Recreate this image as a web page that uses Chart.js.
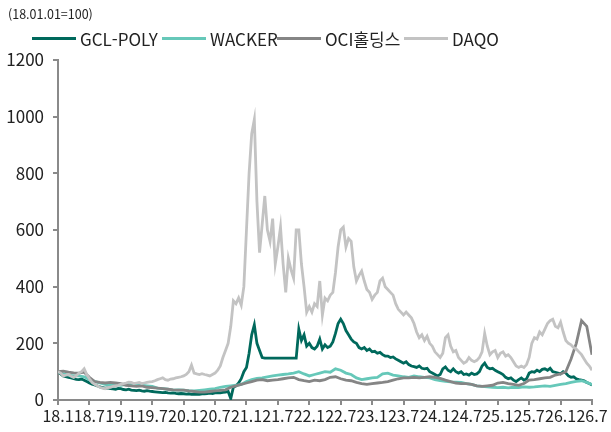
<!DOCTYPE html>
<html lang="ko">
  <head>
    <meta charset="UTF-8" />
    <title>Polysilicon makers, indexed share prices</title>
    <script src="https://cdn.jsdelivr.net/npm/chart.js"></script>
    <style>
      body {
        margin: 0;
        font-family: "Noto Sans CJK KR", "Noto Sans", sans-serif;
        color: #222;
      }
      .wrap {
        position: relative;
        width: 611px;
        height: 432px;
      }
      .unit {
        position: absolute;
        left: 8px;
        top: 8px;
        font-size: 12.5px;
        line-height: 1;
      }
      .item {
        position: absolute;
        top: 29px;
        display: flex;
        align-items: center;
        font-size: 17px;
        line-height: 1;
        height: 18px;
      }
      .item span.line {
        display: inline-block;
        width: 44px;
        height: 3px;
        margin-right: 4px;
      }
    </style>
  </head>
  <body>
    <div class="wrap">
      <canvas id="chart" width="611" height="432"></canvas>
      <div class="unit">(18.01.01=100)</div>
      <div id="legend"></div>
    </div>

    <script>
      // x tick labels, one every 6 months starting Jan 2018
      const tickLabels = [
        "18.1", "18.7", "19.1", "19.7", "20.1", "20.7", "21.1", "21.7", "22.1",
        "22.7", "23.1", "23.7", "24.1", "24.7", "25.1", "25.7", "26.1", "26.7",
      ];

      // DAQO and GCL-POLY: one value every half month
      const daqo = [
        100, 95, 85, 88, 90, 84, 80, 86, 95, 100,
        110, 90, 75, 62, 55, 50, 45, 42, 40, 44,
        45, 48, 50, 52, 55, 58, 60, 63, 62, 58,
        60, 62, 58, 60, 62, 64, 65, 68, 72, 75,
        78, 72, 70, 74, 75, 78, 80, 82, 85, 90,
        100, 123, 95, 92, 90, 93, 90, 88, 85, 90,
        95, 105, 120, 150, 175, 200, 260, 350, 340, 360,
        335, 400, 600, 800, 940, 990, 700, 520, 620, 720,
        600, 560, 640, 480, 540, 610, 480, 380, 500, 460,
        430, 600, 600, 480, 400, 310, 330, 310, 340, 330,
        420, 300, 360, 350, 370, 380, 450, 540, 600, 610,
        540, 570, 560, 470, 420, 440, 455, 420, 390, 380,
        355, 370, 380, 420, 430, 400, 390, 380, 370, 340,
        320, 310, 300, 310, 300, 290, 270, 240, 220, 230,
        210, 225, 200, 190, 170, 160, 150, 165, 220, 230,
        190, 170, 175, 150, 140, 130, 135, 150, 140, 135,
        140, 150, 170, 235, 190, 160, 170, 175, 150, 165,
        170, 155, 160, 150, 135, 120, 115, 120, 115, 125,
        150, 200, 220, 215, 240, 230, 250, 270, 280, 285,
        260, 255, 275, 240, 210, 200, 195, 185, 180, 170,
        160, 145, 130, 120, 105,
      ];

      const gcl = [
        100, 92, 85, 82, 80, 78, 75, 73, 72, 74,
        70, 65, 60, 56, 53, 50, 46, 44, 42, 43,
        40, 39, 38, 41, 40, 37, 36, 38, 35, 34,
        33, 35, 32, 31, 33, 31, 30, 29, 28, 27,
        26, 27, 25, 24, 25, 23, 22, 23, 22, 21,
        22, 20, 20, 21, 20, 22, 22, 23, 24, 23,
        25, 26, 25, 27, 28, 30, 5, 45, 50, 60,
        75, 100, 115, 165, 230, 265, 200, 175, 150, 148,
        148, 148, 148, 148, 148, 148, 148, 148, 148, 148,
        148, 148, 250, 210, 230, 190, 200, 185, 180, 190,
        215, 180, 195, 185, 190, 205, 235, 270, 285, 270,
        245, 230, 215, 205, 200, 185, 180, 185, 175, 180,
        170, 172, 165, 168, 160, 155, 155, 150, 152, 145,
        140, 135, 130, 135, 125, 120, 118, 115, 120, 112,
        110, 112, 100, 95, 90, 85, 90, 110, 117, 105,
        100, 110, 100, 95, 100, 90, 92, 88, 95, 90,
        92, 100, 120, 130, 115, 110, 112, 105, 100, 95,
        90, 80, 75, 78, 70, 65, 72, 78, 70, 75,
        95, 100, 98, 105, 100, 108, 110, 105, 112, 100,
        98, 95, 92, 100, 95, 85, 80, 82, 75, 72,
        70, 68, 62, 58, 53,
      ];

      // WACKER and OCI홀딩스: one value per month
      const wacker = [
        100, 92, 88, 85, 85, 82, 72, 66, 60, 55,
        52, 54, 52, 55, 57, 55, 52, 50, 48, 42,
        40, 38, 35, 36, 35, 33, 32, 34, 36, 38,
        40, 45, 48, 50, 52, 55, 65, 72, 76, 78,
        82, 85, 88, 90, 92, 95, 100, 92, 85, 90,
        95, 100, 98, 110, 105, 95, 90, 78, 72, 75,
        78, 80, 92, 95, 88, 85, 82, 80, 85, 82,
        80, 78, 72, 68, 66, 64, 63, 62, 58, 55,
        50, 48, 46, 45, 44, 45, 43, 45, 44, 46,
        45, 46, 48, 50, 48, 52, 55, 58, 62, 66,
        68, 62, 55,
      ];

      const oci = [
        100, 102, 98, 96, 95, 98, 80, 65, 62, 60,
        62, 60, 58, 52, 50, 48, 50, 45, 44, 42,
        40, 38, 36, 35, 35, 32, 30, 28, 28, 30,
        32, 34, 36, 45, 50, 55, 60, 65, 70, 72,
        68, 70, 72, 75, 78, 80, 72, 68, 65, 70,
        68, 72, 80, 82, 75, 70, 68, 62, 58, 55,
        58, 60, 62, 65, 70, 75, 78, 78, 80, 78,
        80, 82, 80, 76, 70, 65, 60, 58, 58, 55,
        50, 48, 50, 52, 60, 62, 58, 55, 52, 58,
        70, 72, 75, 78, 80, 88, 92, 100, 145, 200,
        280, 260, 160,
      ];

      const series = [
        { label: "GCL-POLY", values: gcl, step: 0.5, color: "#00695c", order: 4 },
        { label: "WACKER", values: wacker, step: 1, color: "#66c8b9", order: 3 },
        { label: "OCI홀딩스", values: oci, step: 1, color: "#858585", order: 2 },
        { label: "DAQO", values: daqo, step: 0.5, color: "#c3c3c3", order: 1 },
      ];

      const axisColor = "#8a8a8a";
      const tickFont = { family: "'Noto Sans CJK KR', sans-serif", size: 17 };

      const datasets = series.map((s) => ({
        label: s.label,
        data: s.values.map((v, i) => ({ x: i * s.step, y: v })),
        borderColor: s.color,
        backgroundColor: s.color,
        borderWidth: 2.8,
        pointRadius: 0,
        tension: 0,
        fill: false,
        order: s.order,
      }));

      new Chart(document.getElementById("chart"), {
        type: "line",
        data: { datasets: datasets },
        options: {
          responsive: false,
          animation: false,
          layout: { padding: { top: 60, right: 19, left: 0, bottom: 0 } },
          plugins: {
            legend: { display: false },
            tooltip: { enabled: false },
          },
          scales: {
            x: {
              type: "linear",
              min: 0,
              max: 102,
              afterBuildTicks: (scale) => {
                scale.ticks = tickLabels.map((_, i) => ({ value: i * 6 }));
              },
              afterFit: (scale) => {
                scale.height = 32;
              },
              ticks: {
                autoSkip: false,
                maxRotation: 0,
                minRotation: 0,
                padding: 1,
                color: "#222",
                font: { family: tickFont.family, size: 16 },
                callback: (v) => tickLabels[Math.round(v / 6)],
              },
              grid: { drawOnChartArea: false, tickLength: 5, color: axisColor, lineWidth: 2 },
              border: { color: axisColor, width: 2 },
            },
            y: {
              min: 0,
              max: 1200,
              afterFit: (scale) => {
                scale.width = 58;
              },
              ticks: {
                stepSize: 200,
                padding: 9,
                color: "#222",
                font: tickFont,
                callback: (v) => String(v),
              },
              grid: { drawOnChartArea: false, tickLength: 5, color: axisColor, lineWidth: 2 },
              border: { color: axisColor, width: 2 },
            },
          },
        },
      });

      // legend, same order as the series list
      const legendLeft = [32, 162, 277, 404];
      const legend = document.getElementById("legend");
      series.forEach((s, i) => {
        const item = document.createElement("div");
        item.className = "item";
        item.style.left = legendLeft[i] + "px";
        item.innerHTML = `<span class="line" style="background:${s.color}"></span><span>${s.label}</span>`;
        legend.appendChild(item);
      });
    </script>
  </body>
</html>
